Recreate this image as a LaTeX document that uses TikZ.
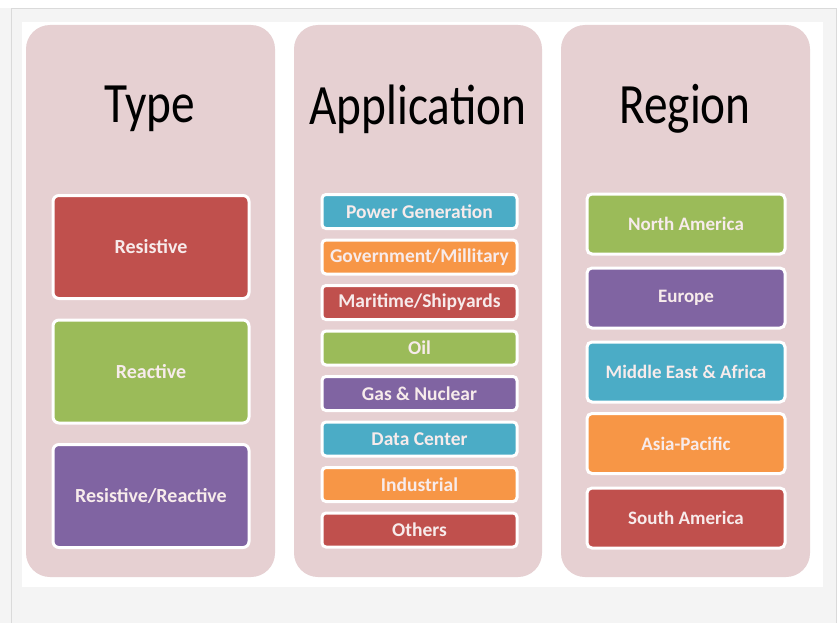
\documentclass[tikz,border=0pt]{standalone}
\usepackage{fontspec}
\setmainfont{Carlito}
\definecolor{panelc}{HTML}{E6D0D2}
\definecolor{bggray}{HTML}{F4F4F4}
\definecolor{framec}{HTML}{DADADA}
\definecolor{ored}{HTML}{C0504D}
\definecolor{ogreen}{HTML}{9BBB59}
\definecolor{opurple}{HTML}{8064A2}
\definecolor{oblue}{HTML}{4BACC6}
\definecolor{oorange}{HTML}{F79646}
\definecolor{txtc}{HTML}{F7EBEB}
\tikzset{
  panel/.style={fill=panelc, draw=none, rounded corners=24pt},
  title/.style={font=\fontsize{57}{60}\selectfont, text=black, inner sep=0pt, xscale=0.83},
  tbox/.style={draw=white, line width=3pt, rounded corners=6pt, minimum width=196pt, minimum height=103pt, inner sep=0pt, text=txtc, font=\bfseries\fontsize{20}{22}\selectfont},
  abox/.style={draw=white, line width=3pt, rounded corners=4pt, minimum width=195pt, minimum height=34pt, inner sep=0pt, text=txtc, font=\bfseries\fontsize{19.5}{21}\selectfont},
  rbox/.style={draw=white, line width=3pt, rounded corners=5pt, minimum width=198pt, minimum height=60pt, inner sep=0pt, text=txtc, font=\bfseries\fontsize{19}{21}\selectfont},
}
\begin{document}
\begin{tikzpicture}[x=1pt,y=-1pt]
\useasboundingbox (0,0) rectangle (838,623);
\fill[white] (0,0) rectangle (838,623);
\fill[bggray] (0,8) rectangle (836,623);
\draw[framec, line width=0.8pt] (11,630) -- (11,8) -- (836,8) -- (836,630);
\fill[white] (22,22) rectangle (823,587);
% panels
\fill[panel] (26,25) rectangle (275,577);
\fill[panel] (294,25) rectangle (542,577);
\fill[panel] (561,25) rectangle (810,577);
% titles
\node[title] (ttype) at (150,109) {Type};
\node[title] (tapp) at (418,109) {Application};
\node[title] (treg) at (685,109) {Region};
% type
\node[tbox, fill=ored] (t1) at (151,247) {Resistive};
\node[tbox, fill=ogreen] (t2) at (151,371.5) {Reactive};
\node[tbox, fill=opurple] (t3) at (151,496) {Resistive/Reactive};
% application
\node[abox, fill=oblue] (a1) at (419.5,211.5) {Power Generation};
\node[abox, fill=oorange] (a2) at (419.5,257) {Government/Millitary};
\node[abox, fill=ored] (a3) at (419.5,302.5) {Maritime/Shipyards};
\node[abox, fill=ogreen] (a4) at (419.5,348) {Oil};
\node[abox, fill=opurple] (a5) at (419.5,393.5) {Gas \& Nuclear};
\node[abox, fill=oblue] (a6) at (419.5,439) {Data Center};
\node[abox, fill=oorange] (a7) at (419.5,484.5) {Industrial};
\node[abox, fill=ored] (a8) at (419.5,530) {Others};
% region
\node[rbox, fill=ogreen] (r1) at (686,224) {North America};
\node[rbox, fill=opurple] (r2) at (686,298) {Europe};
\node[rbox, fill=oblue] (r3) at (686,372) {Middle East \& Africa};
\node[rbox, fill=oorange] (r4) at (686,443.5) {Asia-Pacific};
\node[rbox, fill=ored] (r5) at (686,518) {South America};
\end{tikzpicture}
\end{document}
